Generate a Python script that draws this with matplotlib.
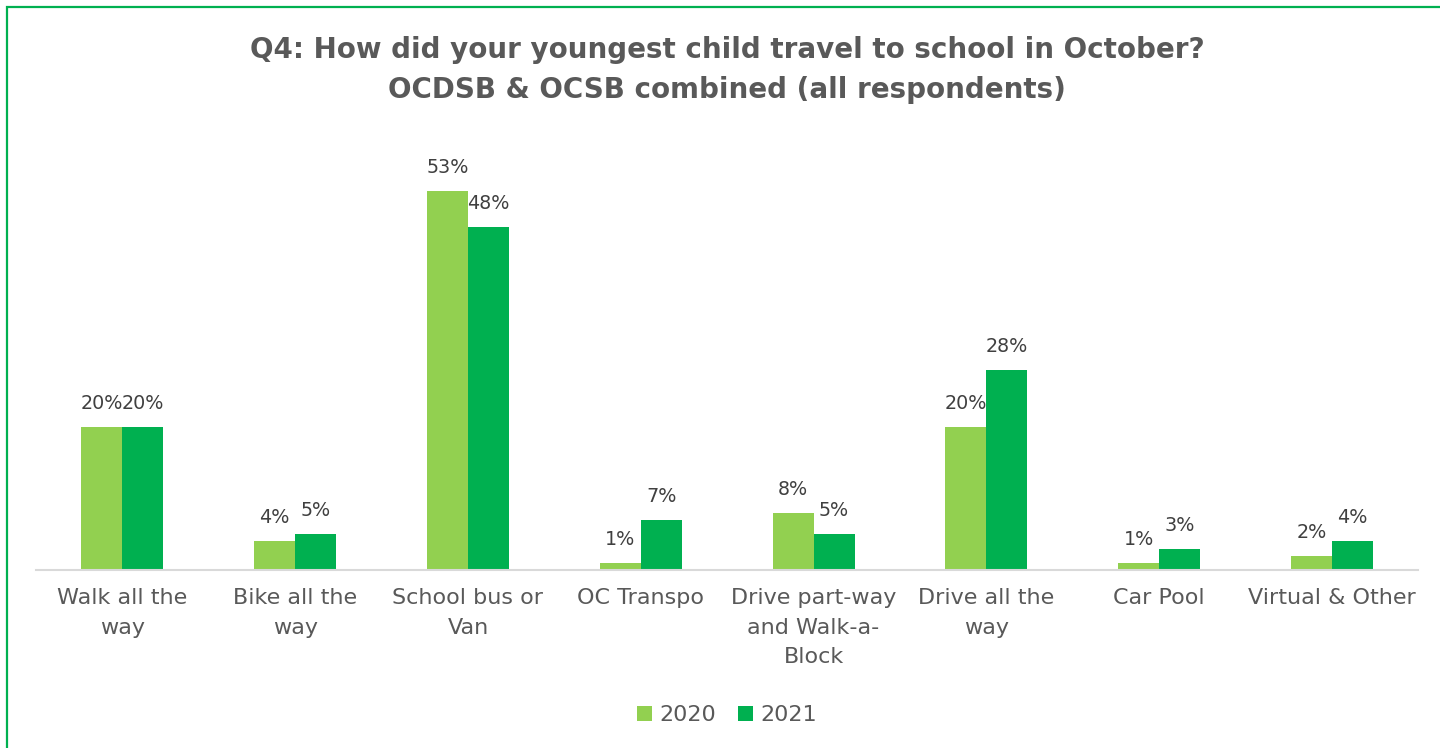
import numpy as np
import matplotlib.pyplot as plt
from matplotlib.patches import Rectangle

categories = ['Walk all the\nway', 'Bike all the\nway', 'School bus or\nVan', 'OC Transpo',
              'Drive part-way\nand Walk-a-\nBlock', 'Drive all the\nway', 'Car Pool', 'Virtual & Other']
years = ['2020', '2021']
pct_2020 = [20, 4, 53, 1, 8, 20, 1, 2]
pct_2021 = [20, 5, 48, 7, 5, 28, 3, 4]

light_green = '#92D050'
dark_green = '#00B050'
text_grey = '#595959'

plt.rcParams['font.family'] = ['DejaVu Sans']

fig = plt.figure(figsize=(14.4, 7.48), dpi=100)
ax = fig.add_axes([0.025, 0.238, 0.96, 0.5735])

x = np.arange(len(categories))
w = 0.237
b1 = ax.bar(x - w / 2, pct_2020, w, color=light_green, label=years[0])
b2 = ax.bar(x + w / 2, pct_2021, w, color=dark_green, label=years[1])

for bars, vals in ((b1, pct_2020), (b2, pct_2021)):
    for bar, v in zip(bars, vals):
        ax.annotate(f'{v}%', (bar.get_x() + bar.get_width() / 2, v),
                    xytext=(0, 10), textcoords='offset points',
                    ha='center', va='bottom', fontsize=13.8, color='#404040')

ax.set_xlim(-0.5, len(categories) - 0.5)
ax.set_ylim(0, 60)
ax.set_xticks(x)
ax.set_xticklabels(categories, fontsize=16, color=text_grey, linespacing=1.6, va='top')
ax.tick_params(axis='x', length=0, pad=13)
ax.set_yticks([])
for s in ('top', 'right', 'left'):
    ax.spines[s].set_visible(False)
ax.spines['bottom'].set_color('#D9D9D9')
ax.spines['bottom'].set_linewidth(1.5)

fig.text(0.505, 0.907, 'Q4: How did your youngest child travel to school in October?\n'
         'OCDSB & OCSB combined (all respondents)',
         ha='center', va='center', fontsize=20, fontweight='bold', color=text_grey,
         linespacing=1.55)

fig.legend(loc='center', bbox_to_anchor=(0.505, 0.044), ncol=2, frameon=False,
           fontsize=16, handlelength=0.65, handleheight=0.65, handletextpad=0.35,
           columnspacing=1.0, labelcolor=text_grey)

# green frame around the chart area
fig.patches.append(Rectangle((0.0048, -0.05), 1.1, 1.04, transform=fig.transFigure,
                             fill=False, edgecolor=dark_green, linewidth=1.6))

fig.savefig('out.png', dpi=100)
